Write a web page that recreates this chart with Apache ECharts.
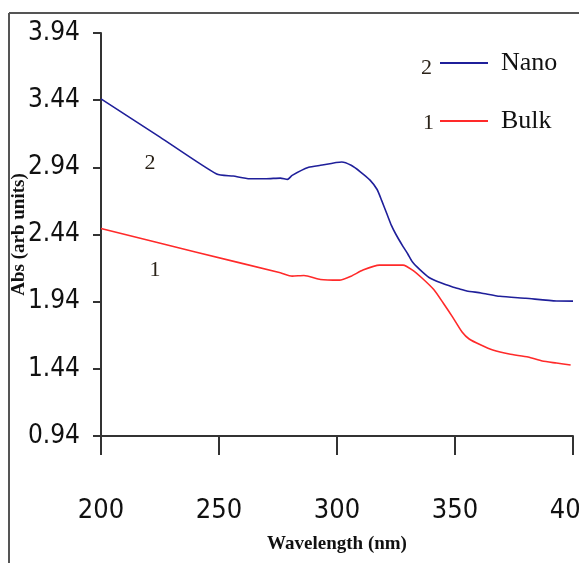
<!DOCTYPE html>
<html>
<head>
<meta charset="utf-8">
<title>Abs vs Wavelength</title>
<script src="https://cdn.jsdelivr.net/npm/echarts@6/dist/echarts.min.js"></script>
<style>
  html, body { margin: 0; padding: 0; background: #fff; }
  #chart { width: 579px; height: 563px; }
</style>
</head>
<body>
<div id="chart"></div>
<script>
  // values
  const nanoWavelength = [200, 225, 249, 256, 263, 270, 276, 279, 281, 288, 293, 302, 306, 310, 314, 317, 319, 321, 323, 325, 328, 330, 332, 335, 339, 344, 349, 352, 355, 361, 369, 380, 393, 400]
  const nanoAbs = [3.45, 3.165, 2.89, 2.875, 2.855, 2.855, 2.86, 2.85, 2.88, 2.94, 2.955, 2.98, 2.955, 2.905, 2.845, 2.775, 2.69, 2.60, 2.51, 2.44, 2.35, 2.295, 2.235, 2.18, 2.12, 2.08, 2.05, 2.035, 2.02, 2.005, 1.98, 1.965, 1.945, 1.944]
  const bulkWavelength = [200, 240, 276, 281, 286, 293, 301, 306, 311, 318, 328, 332, 336, 341, 345, 349, 353, 356, 361, 366, 373, 381, 387, 393, 399]
  const bulkAbs = [2.485, 2.31, 2.155, 2.13, 2.135, 2.105, 2.10, 2.13, 2.175, 2.212, 2.212, 2.175, 2.116, 2.03, 1.93, 1.825, 1.714, 1.662, 1.617, 1.58, 1.55, 1.528, 1.498, 1.483, 1.468]
  const yTicks = [0.94, 1.44, 1.94, 2.44, 2.94, 3.44, 3.94]
  const seriesNames = ['Nano', 'Bulk']
  const curveNumbers = ['2', '1']

  const serif = "'Liberation Serif', 'DejaVu Serif', 'Times New Roman', serif"
  const narrow = "'Liberation Sans Narrow', 'DejaVu Sans Condensed', 'Arial Narrow', sans-serif"
  const axisColor = '#333'

  function pairs(xs, ys) {
    return xs.map((x, i) => [x, ys[i]])
  }

  let chart = echarts.init(document.getElementById('chart'))
  chart.setOption({
    animation: false,
    backgroundColor: '#fff',
    grid: {
      left: 101,
      right: 6,
      top: 33,
      bottom: 127,
      containLabel: false,
      outerBoundsMode: 'none'
    },
    legend: {
      data: seriesNames,
      orient: 'vertical',
      left: 440,
      top: 50,
      icon: 'rect',
      itemWidth: 48,
      itemHeight: 2,
      itemGap: 32,
      padding: 0,
      textStyle: {
        fontFamily: serif,
        fontSize: 26,
        color: '#111',
        padding: [0, 0, 0, 8]
      }
    },
    xAxis: {
      type: 'value',
      min: 200,
      max: 400,
      interval: 50,
      name: 'Wavelength (nm)',
      nameLocation: 'middle',
      nameGap: 99,
      nameTextStyle: {
        fontFamily: serif,
        fontWeight: 'bold',
        fontSize: 19,
        color: '#111'
      },
      axisLine: { lineStyle: { color: axisColor, width: 2 } },
      axisTick: { length: 19, lineStyle: { color: axisColor, width: 2 } },
      axisLabel: {
        margin: 61,
        fontFamily: narrow,
        fontSize: 27,
        color: '#111'
      },
      splitLine: { show: false }
    },
    yAxis: {
      type: 'value',
      min: 0.94,
      max: 3.94,
      name: 'Abs (arb units)',
      nameLocation: 'middle',
      nameRotate: 90,
      nameGap: 72,
      nameMoveOverlap: false,
      nameTextStyle: {
        fontFamily: serif,
        fontWeight: 'bold',
        fontSize: 19,
        color: '#111'
      },
      axisLine: { show: true, lineStyle: { color: axisColor, width: 2 } },
      axisTick: {
        show: true,
        length: 8,
        customValues: yTicks,
        lineStyle: { color: axisColor, width: 2 }
      },
      axisLabel: {
        margin: 21,
        customValues: yTicks,
        formatter: v => v.toFixed(2),
        fontFamily: narrow,
        fontSize: 26,
        color: '#111'
      },
      splitLine: { show: false }
    },
    series: [
      {
        name: seriesNames[0],
        type: 'line',
        data: pairs(nanoWavelength, nanoAbs),
        showSymbol: false,
        symbol: 'none',
        smooth: 0.2,
        color: '#1f1f9a',
        lineStyle: { width: 1.6, color: '#1f1f9a' },
        markPoint: {
          symbol: 'circle',
          symbolSize: 1,
          itemStyle: { color: 'transparent' },
          label: {
            show: true,
            formatter: curveNumbers[0],
            fontFamily: serif,
            fontSize: 22,
            color: '#2a2218'
          },
          data: [{ coord: [220.8, 2.97] }]
        }
      },
      {
        name: seriesNames[1],
        type: 'line',
        data: pairs(bulkWavelength, bulkAbs),
        showSymbol: false,
        symbol: 'none',
        smooth: 0.2,
        color: '#ff2a2a',
        lineStyle: { width: 1.6, color: '#ff2a2a' },
        markPoint: {
          symbol: 'circle',
          symbolSize: 1,
          itemStyle: { color: 'transparent' },
          label: {
            show: true,
            formatter: curveNumbers[1],
            fontFamily: serif,
            fontSize: 22,
            color: '#2a2218'
          },
          data: [{ coord: [222.9, 2.175] }]
        }
      }
    ],
    graphic: [
      // outer frame (top and left edges)
      {
        type: 'line',
        shape: { x1: 9, y1: 13, x2: 579, y2: 13 },
        style: { stroke: '#555', lineWidth: 2 }
      },
      {
        type: 'line',
        shape: { x1: 9, y1: 13, x2: 9, y2: 563 },
        style: { stroke: '#555', lineWidth: 2 }
      },
      // curve numbers in front of the legend entries
      {
        type: 'text',
        left: 421,
        top: 57,
        style: { text: curveNumbers[0], font: '22px ' + serif, fill: '#2a2218' }
      },
      {
        type: 'text',
        left: 423,
        top: 112,
        style: { text: curveNumbers[1], font: '22px ' + serif, fill: '#2a2218' }
      }
    ]
  })
</script>
</body>
</html>
